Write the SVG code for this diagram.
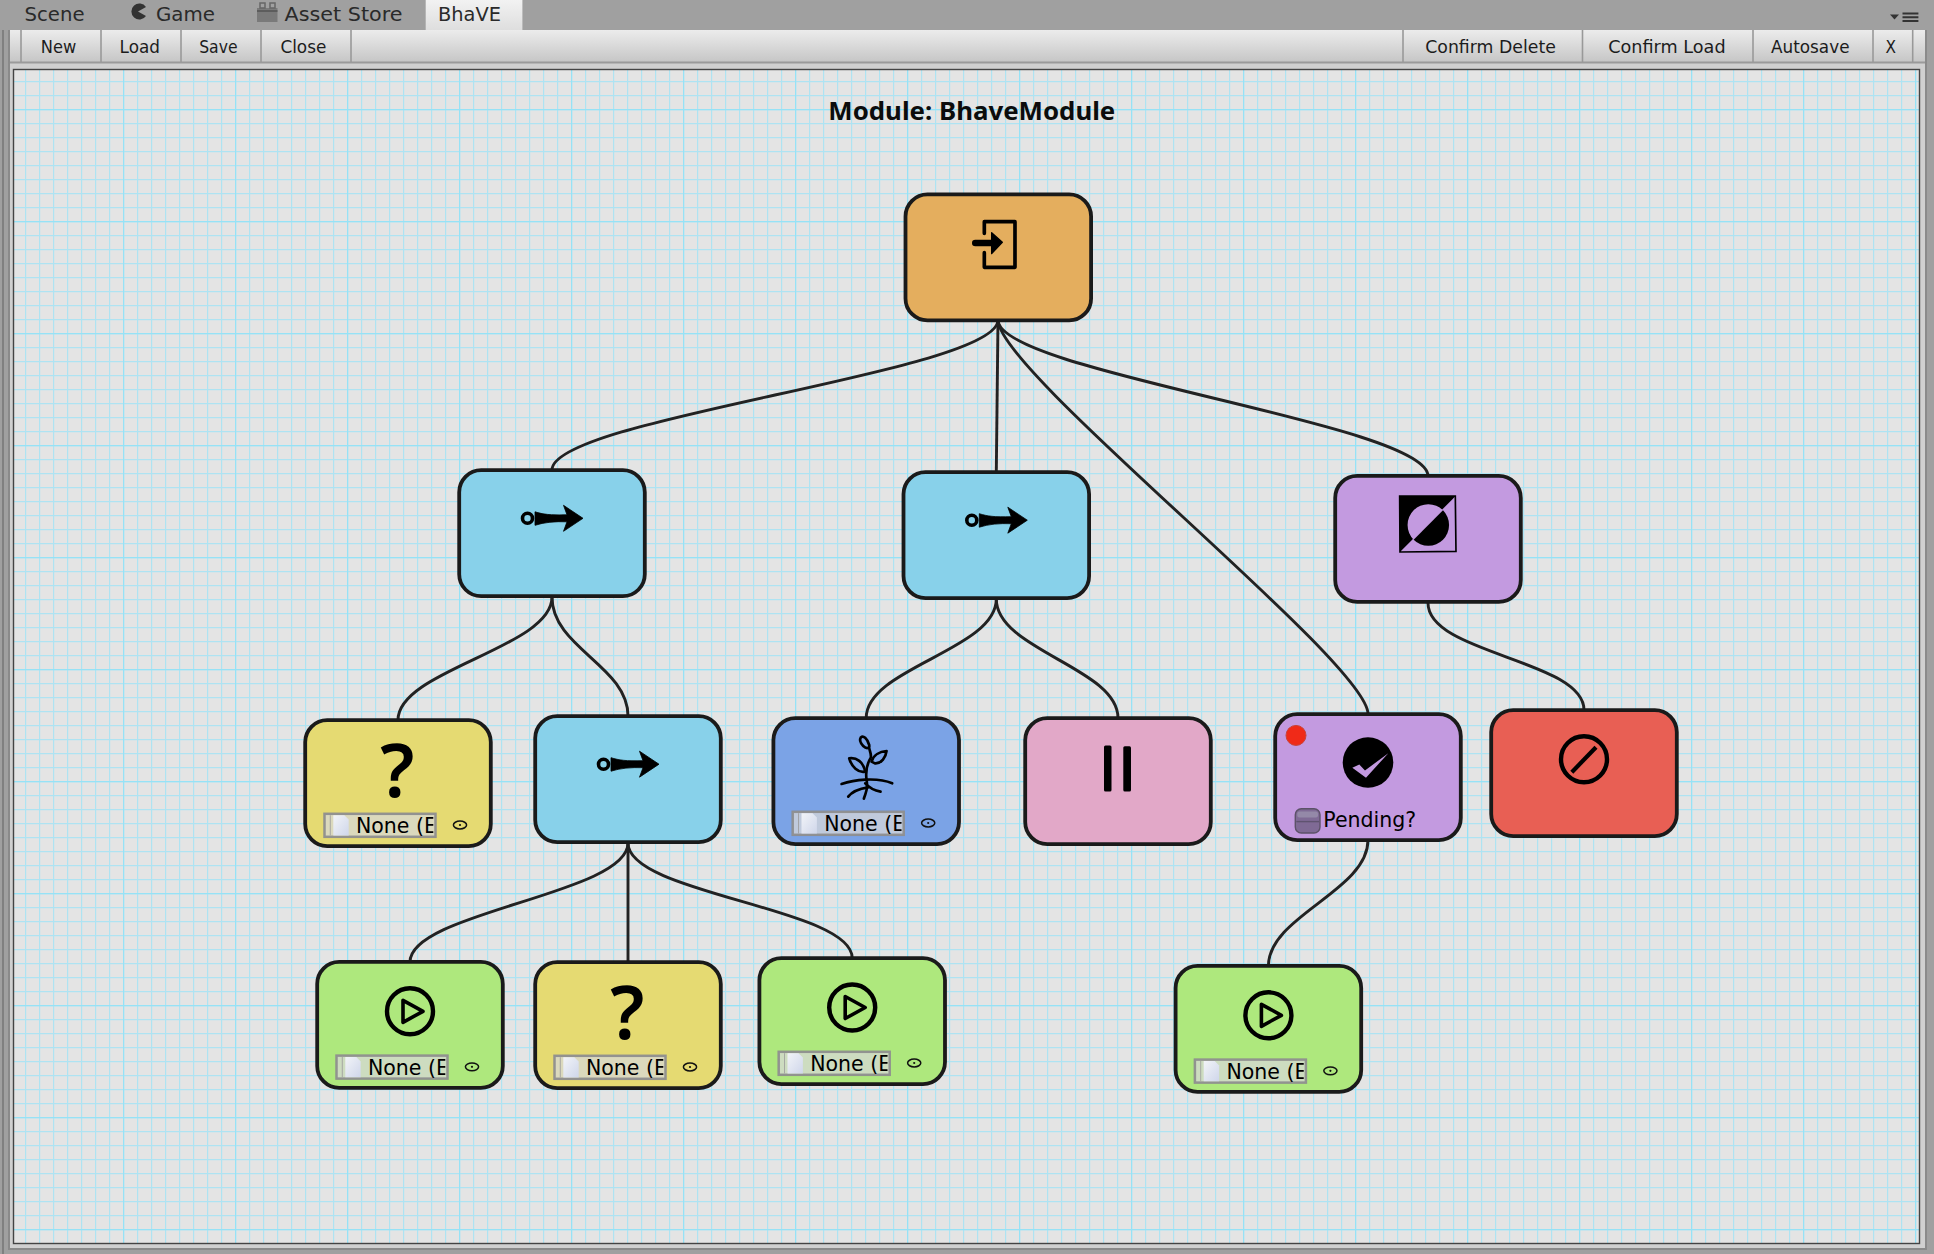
<svg xmlns="http://www.w3.org/2000/svg" width="1934" height="1254" viewBox="0 0 1934 1254">
<style>
.ui{font-family:"DejaVu Sans","Noto Sans",sans-serif;fill:#1c1c1c}
.tb{font-size:17px}
.tab{font-size:19.5px;fill:#2a2a2a}
.title{font-family:"Noto Sans","DejaVu Sans",sans-serif;font-size:25.5px;font-weight:700;fill:#0c0c0c}
.box{stroke:#1a1a1a;stroke-width:3.8}
.orange{fill:#e4ae5e}.sky{fill:#88d1ea}.yellow{fill:#e5da72}.green{fill:#aee87d}.purple{fill:#c39ae0}.red{fill:#e85f54}.pink{fill:#e2a8c8}.blue{fill:#7ba3e6}
.wire{fill:none;stroke:#222;stroke-width:2.9}
.sep{stroke:#999;stroke-width:1.6}
.q{font-family:"Noto Sans",sans-serif;font-weight:600;font-size:74px;fill:#000;text-anchor:middle}
.fld{font-family:"DejaVu Sans",sans-serif;font-size:20.5px;fill:#000}
</style>
<defs>
<linearGradient id="tbg" x1="0" y1="0" x2="0" y2="1"><stop offset="0" stop-color="#ececec"/><stop offset="1" stop-color="#c6c6c6"/></linearGradient>
<linearGradient id="tabg" x1="0" y1="0" x2="0" y2="1"><stop offset="0" stop-color="#f2f2f2"/><stop offset="1" stop-color="#dedede"/></linearGradient>
<linearGradient id="doc" x1="0" y1="0" x2="1" y2="1"><stop offset="0" stop-color="#f2f4f8"/><stop offset="1" stop-color="#cfd6ea"/></linearGradient>
<pattern id="minor" patternUnits="userSpaceOnUse" x="11" y="11" width="14" height="14"><path d="M0.6 0V14M0 0.6H14" stroke="#aee3f2" stroke-width="1.2" fill="none"/></pattern>
<pattern id="major" patternUnits="userSpaceOnUse" x="11" y="109" width="112" height="112"><path d="M0.6 0V112M0 0.6H112" stroke="#96e2f6" stroke-width="1.2" fill="none"/></pattern>
<clipPath id="fc"><rect x="22" y="94" width="108" height="27"/></clipPath>
<g id="arrow"><circle cx="-24.5" cy="0" r="5" fill="none" stroke="#000" stroke-width="3.6"/><path d="M-17 -6.5C-9 -4-2-3 15-3.5L11.5-13 31 0 11.5 13 15 3.5C3 3-8 4-17 7Z" fill="#000" stroke="#000" stroke-width=".8" stroke-linejoin="round"/></g>
<g id="play"><circle r="23" fill="none" stroke="#000" stroke-width="4.4"/><path d="M-7-11L13 0-7 11Z" fill="none" stroke="#000" stroke-width="3.6" stroke-linejoin="round"/></g>
<g id="field"><rect x="21.2" y="95.6" width="111" height="23" fill="#d8d8d8" fill-opacity=".74" stroke="#8e8e8e" stroke-opacity=".95" stroke-width="2.5"/><path d="M30 97H41L45.4 101.4V117.2H30Z" fill="url(#doc)"/><path d="M27 97V117.2" stroke="#9a9a9a" stroke-width=".8"/><ellipse cx="156.7" cy="106.8" rx="6.6" ry="3.9" fill="none" stroke="#111" stroke-width="1.5"/><circle cx="156.7" cy="106.8" r="1.1" fill="#111"/></g>
</defs>

<rect width="1934" height="1254" fill="#a0a0a0"/>
<g id="tabs">
<rect x="425.7" y="0" width="96.7" height="30" fill="url(#tabg)"/>
<text class="ui tab" x="24.5" y="20.7" textLength="60" lengthAdjust="spacingAndGlyphs">Scene</text>
<path d="M146 7A8 8 0 1 0 146 16L138 11.5Z" fill="#333"/>
<text class="ui tab" x="156" y="20.7" textLength="59" lengthAdjust="spacingAndGlyphs">Game</text>
<path d="M257 8H277.5V22H257Z" fill="#7a7a7a"/><path d="M260 3H265V8H260ZM270 3H275V8H270Z" fill="none" stroke="#666" stroke-width="1.5"/><path d="M257 11H277.5" stroke="#555" stroke-width="1.5"/>
<text class="ui tab" x="284.5" y="20.7" textLength="118" lengthAdjust="spacingAndGlyphs">Asset Store</text>
<text class="ui tab" x="438" y="20.7" textLength="63" lengthAdjust="spacingAndGlyphs">BhaVE</text>
<path d="M1890 14.5H1899L1894.5 19.5Z" fill="#333"/>
<path d="M1902.5 13.5H1918.4M1902.5 17.2H1918.4M1902.5 20.9H1918.4" stroke="#333" stroke-width="2"/>
</g>
<g id="chrome">
<rect x="2" y="30" width="2" height="1224" fill="#808080"/>
<rect x="8" y="30" width="2" height="1220" fill="#8a8a8a"/>
<rect x="10" y="62" width="1915" height="1186" fill="#d0d0d0"/>
<rect x="1925" y="30" width="2" height="1220" fill="#8a8a8a"/>
<rect x="8" y="1248" width="1919" height="2" fill="#8a8a8a"/>
<rect x="10" y="30" width="1915" height="32" fill="url(#tbg)"/>
<rect x="10" y="61.5" width="1915" height="2" fill="#9a9a9a"/>
<path class="sep" d="M21 30V62M101 30V62M181 30V62M261 30V62M351 30V62M1403 30V62M1582.5 30V62M1753 30V62M1873 30V62M1912.7 30V62"/>
<text class="ui tb" x="40.8" y="52.7" textLength="35.5" lengthAdjust="spacingAndGlyphs">New</text>
<text class="ui tb" x="119.6" y="52.7" textLength="40.4" lengthAdjust="spacingAndGlyphs">Load</text>
<text class="ui tb" x="199.2" y="52.7" textLength="38.4" lengthAdjust="spacingAndGlyphs">Save</text>
<text class="ui tb" x="280.4" y="52.7" textLength="46" lengthAdjust="spacingAndGlyphs">Close</text>
<text class="ui tb" x="1425.2" y="52.7" textLength="130.7" lengthAdjust="spacingAndGlyphs">Confirm Delete</text>
<text class="ui tb" x="1608.2" y="52.7" textLength="117.4" lengthAdjust="spacingAndGlyphs">Confirm Load</text>
<text class="ui tb" x="1771" y="52.7" textLength="78.5" lengthAdjust="spacingAndGlyphs">Autosave</text>
<text class="ui tb" x="1885.5" y="52.7" textLength="10.5" lengthAdjust="spacingAndGlyphs">X</text>
</g>
<g id="canvas">
<rect x="13.5" y="69.5" width="1906" height="1174" fill="#e4e4e4"/>
<rect x="13.5" y="69.5" width="1906" height="1174" fill="url(#minor)"/>
<rect x="13.5" y="69.5" width="1906" height="1174" fill="url(#major)"/>
<rect x="13.5" y="69.5" width="1906" height="1174" fill="none" stroke="#444" stroke-width="1.4"/>
</g>
<text class="title" x="828.3" y="120" textLength="287" lengthAdjust="spacingAndGlyphs">Module: BhaveModule</text>

<g id="connectors">
<path class="wire" d="M998 320C998 372 552 418 552 470"/>
<path class="wire" d="M998 320L996.3 472"/>
<path class="wire" d="M998 320C998 372 1368 662 1368 714"/>
<path class="wire" d="M998 320C998 372 1428 424 1428 476"/>
<path class="wire" d="M552 597C552 648 398 670 398 720"/>
<path class="wire" d="M552 597C552 648 628 666 628 716"/>
<path class="wire" d="M996.3 599C996.3 650 866.2 668 866.2 718"/>
<path class="wire" d="M996.3 599C996.3 650 1118 668 1118 718"/>
<path class="wire" d="M1428 603C1428 654 1584 660 1584 710"/>
<path class="wire" d="M628 843C628 894 410 912 410 962"/>
<path class="wire" d="M628 843V962"/>
<path class="wire" d="M628 843C628 894 852.2 908 852.2 958"/>
<path class="wire" d="M1368 840C1368 891 1268.4 916 1268.4 966"/>
</g>

<g id="node-entry" transform="translate(903.6 192.5)"><rect class="box orange" x="1.9" y="1.9" width="185.6" height="126" rx="22"/>
<g transform="translate(-23.6 -12.5) scale(.3333)"><path d="M313 160V125H405V262H313V218" fill="none" stroke="#000" stroke-width="11" stroke-linejoin="round" stroke-linecap="round"/><path d="M286 189H340" stroke="#000" stroke-width="20" stroke-linecap="round"/><path d="M335 158L367 187 335 221Z" fill="#000" stroke="#000" stroke-width="4" stroke-linejoin="round"/></g></g>

<g id="node-seq-1" transform="translate(457.3 468.3)"><rect class="box sky" x="1.9" y="1.9" width="185.6" height="126" rx="22"/><use href="#arrow" x="94.7" y="50"/></g>
<g id="node-seq-2" transform="translate(901.6 470.2)"><rect class="box sky" x="1.9" y="1.9" width="185.6" height="126" rx="22"/><use href="#arrow" x="94.7" y="50"/></g>
<g id="node-seq-3" transform="translate(533.3 714.2)"><rect class="box sky" x="1.9" y="1.9" width="185.6" height="126" rx="22"/><use href="#arrow" x="94.7" y="50"/></g>

<g id="node-invert" transform="translate(1333.3 474)"><rect class="box purple" x="1.9" y="1.9" width="185.6" height="126" rx="22"/>
<g transform="translate(-73.3 -14) scale(.3333)"><path d="M419 108H587L420 276Z" fill="#000"/><path d="M419 108H586L588 274 420 276Z" fill="none" stroke="#000" stroke-width="5"/><path d="M461 239A62 62 0 0 1 549 151Z" fill="#c39ae0"/><path d="M549 151A62 62 0 0 1 461 239Z" fill="#000"/></g></g>

<g id="node-cond-1" transform="translate(303.3 718.2)"><rect class="box yellow" x="1.9" y="1.9" width="185.6" height="126" rx="22"/><text class="q" x="94" y="79">?</text><use href="#field"/><text class="fld" x="52.7" y="114.6" clip-path="url(#fc)">None (E</text></g>

<g id="node-plant" transform="translate(771.5 716.2)"><rect class="box blue" x="1.9" y="1.9" width="185.6" height="126" rx="22"/>
<g transform="translate(-11.6 -16.2) scale(.3333)" fill="none" stroke="#000" stroke-width="8" stroke-linecap="round" stroke-linejoin="round"><path d="M312 296C316 280 326 270 320 240 316 210 322 190 333 172 334 160 330 155 328 145"/><path d="M303 112C310 105 322 115 328 135 330 145 320 148 310 138 302 130 298 120 303 112Z"/><path d="M335 185C340 165 360 155 380 153 378 170 365 192 345 190Z"/><path d="M268 175C290 172 310 185 316 215 295 220 275 200 268 175Z"/><path d="M245 252C280 240 350 230 397 250"/><path d="M316 250C330 265 345 272 362 275M325 262C305 265 280 270 265 290"/></g>
<use href="#field"/><text class="fld" x="52.7" y="114.6" clip-path="url(#fc)">None (E</text></g>

<g id="node-pause" transform="translate(1023.3 716.2)"><rect class="box pink" x="1.9" y="1.9" width="185.6" height="126" rx="22"/><rect x="80.7" y="29.3" width="7.5" height="46" rx="1.5" fill="#000"/><rect x="100" y="30" width="7.7" height="45.3" rx="1.5" fill="#000"/></g>

<g id="node-check" transform="translate(1273.3 712.2)"><rect class="box purple" x="1.9" y="1.9" width="185.6" height="126" rx="22"/>
<circle cx="22.7" cy="23.2" r="10" fill="#f02a18" stroke="#c8443a" stroke-width="1"/>
<circle cx="94.7" cy="50.3" r="25.3" fill="#000"/>
<g transform="translate(-13.3 -251.7) scale(.3333)"><path d="M277 922L298 912 315 930 385 878 318 952Z" fill="#c39ae0"/></g>
<rect x="22" y="96.6" width="24.7" height="24.2" rx="6" fill="#7f6a95" stroke="#5c5268" stroke-width="1.4"/><rect x="24" y="99.4" width="20.7" height="6" rx="2" fill="#9489a8"/><path d="M23 109.4H45.7" stroke="#5f5370" stroke-width="1.4"/>
<text class="fld" x="50" y="115">Pending?</text></g>

<g id="node-fail" transform="translate(1489.3 708.2)"><rect class="box red" x="1.9" y="1.9" width="185.6" height="126" rx="22"/><circle cx="94.7" cy="51" r="23" fill="none" stroke="#000" stroke-width="4.4"/><path d="M82.5 64L106.7 39" stroke="#000" stroke-width="4.2"/></g>

<g id="node-act-1" transform="translate(315.3 960)"><rect class="box green" x="1.9" y="1.9" width="185.6" height="126" rx="22"/><use href="#play" x="94.7" y="51.3"/><use href="#field"/><text class="fld" x="52.7" y="114.6" clip-path="url(#fc)">None (E</text></g>

<g id="node-cond-2" transform="translate(533.3 960.2)"><rect class="box yellow" x="1.9" y="1.9" width="185.6" height="126" rx="22"/><text class="q" x="94" y="79">?</text><use href="#field"/><text class="fld" x="52.7" y="114.6" clip-path="url(#fc)">None (E</text></g>

<g id="node-act-2" transform="translate(757.5 956.2)"><rect class="box green" x="1.9" y="1.9" width="185.6" height="126" rx="22"/><use href="#play" x="94.7" y="51.3"/><use href="#field"/><text class="fld" x="52.7" y="114.6" clip-path="url(#fc)">None (E</text></g>

<g id="node-act-3" transform="translate(1173.7 964)"><rect class="box green" x="1.9" y="1.9" width="185.6" height="126" rx="22"/><use href="#play" x="94.7" y="51.3"/><use href="#field"/><text class="fld" x="52.7" y="114.6" clip-path="url(#fc)">None (E</text></g>
</svg>
